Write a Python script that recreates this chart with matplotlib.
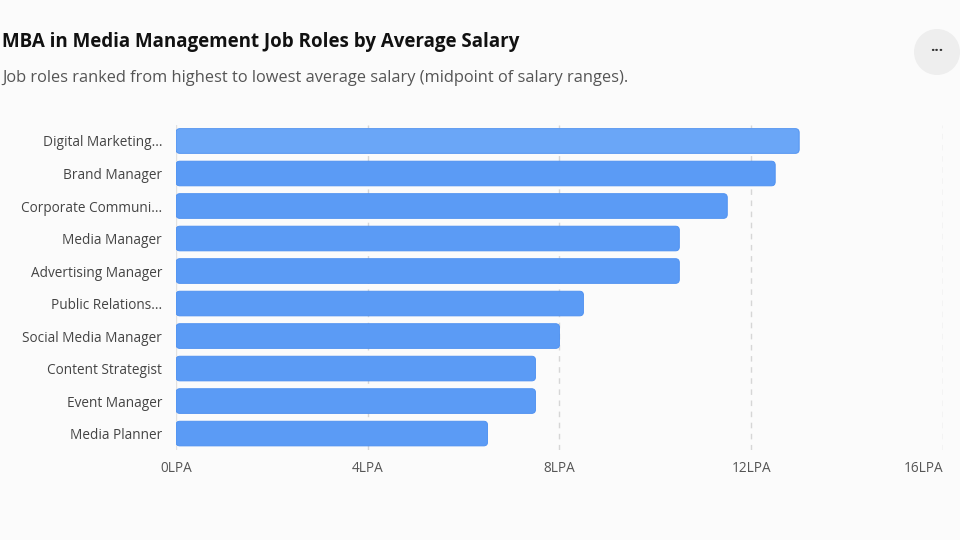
import matplotlib.pyplot as plt
from matplotlib.patches import FancyBboxPatch, Ellipse

plt.rcParams['font.family'] = ['Open Sans', 'DejaVu Sans']

roles = ["Digital Marketing...", "Brand Manager", "Corporate Communi...", "Media Manager",
         "Advertising Manager", "Public Relations...", "Social Media Manager",
         "Content Strategist", "Event Manager", "Media Planner"]
salary = [13.0, 12.5, 11.5, 10.5, 10.5, 8.5, 8.0, 7.5, 7.5, 6.5]
xticks = [0, 4, 8, 12, 16]
xlabels = ["0LPA", "4LPA", "8LPA", "12LPA", "16LPA"]

bg = "#fbfbfb"
fig = plt.figure(figsize=(9.6, 5.4), dpi=100, facecolor=bg)
ax = fig.add_axes([0.1833, 0.167, 0.7990, 0.602], facecolor=bg)

n = len(roles)
ax.set_xlim(0, 16)
ax.set_ylim(n - 0.5, -0.5)
h = 0.76
for i, v in enumerate(salary):
    col = "#6aa6f7" if i == 0 else "#5b9bf5"
    p = FancyBboxPatch((0, i - h / 2), v, h,
                       boxstyle="round,pad=0,rounding_size=0.08",
                       mutation_aspect=1.5, facecolor=col, edgecolor="#4a8ef0", lw=0.6)
    ax.add_patch(p)

ax.set_yticks(range(n))
ax.set_yticklabels(roles, fontsize=9.8, color="#444444")
ax.set_xticks(xticks)
ax.set_xticklabels(xlabels, fontsize=9.8, color="#555555")
ax.get_xticklabels()[-1].set_horizontalalignment("right")
ax.get_xticklabels()[-1].set_x(16.1)
ax.tick_params(length=0, pad=8)
ax.tick_params(axis="y", pad=10)
for x in xticks[1:]:
    ax.axvline(x, color="#d6d6d6", ls=(0, (4, 4)), lw=1, zorder=0)
ax.axvline(0, color="#e2e2e2", lw=1, zorder=0)
for s in ax.spines.values():
    s.set_visible(False)

fig.text(0.002, 0.922, "MBA in Media Management Job Roles by Average Salary",
         fontsize=13.5, fontweight="bold", color="#111111", va="center")
fig.text(0.002, 0.855, "Job roles ranked from highest to lowest average salary (midpoint of salary ranges).",
         fontsize=11.8, color="#555555", va="center")
fig.patches.append(Ellipse((937 / 960, 1 - 52 / 540), 46 / 960, 46 / 540, transform=fig.transFigure,
                           facecolor="#eeeeee", edgecolor="none"))
fig.text(937 / 960, 1 - 51 / 540, "···", ha="center", va="center", fontsize=11,
         color="#333333", fontweight="bold")

fig.savefig("out.png", dpi=100, facecolor=bg)
